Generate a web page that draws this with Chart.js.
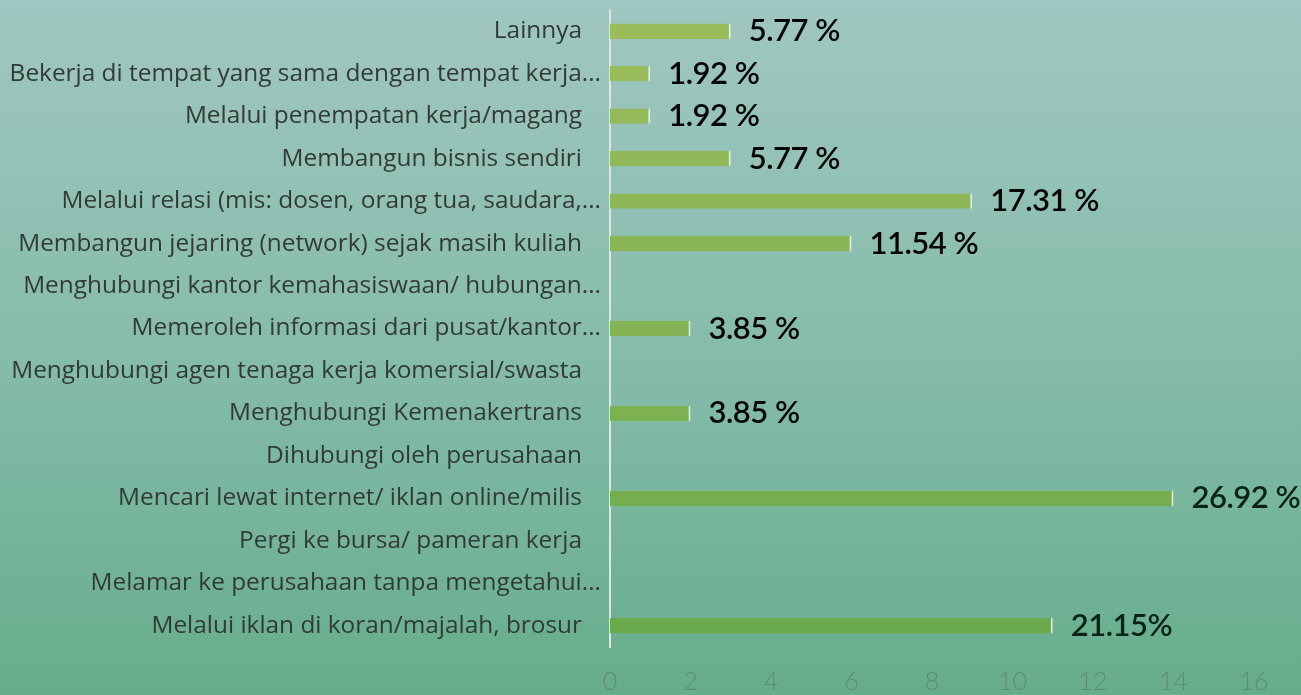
<!DOCTYPE html>
<html>
<head>
<meta charset="utf-8">
<script src="https://cdn.jsdelivr.net/npm/chart.js@4/dist/chart.umd.min.js"></script>
<style>
    html, body { margin: 0; padding: 0; background: #84b9a6; }
    #wrap { width: 1301px; height: 695px; position: relative; }
</style>
</head>
<body>
<div id="wrap"><canvas id="chart" width="1301" height="695"></canvas></div>
<script>
// categories, top to bottom as in the picture
const categories = [
    'Lainnya   ',
    'Bekerja di tempat yang sama dengan tempat kerja...',
    'Melalui penempatan kerja/magang   ',
    'Membangun bisnis sendiri   ',
    'Melalui relasi (mis: dosen, orang tua, saudara,...',
    'Membangun jejaring (network) sejak masih kuliah   ',
    'Menghubungi kantor kemahasiswaan/ hubungan...',
    'Memeroleh informasi dari pusat/kantor...',
    'Menghubungi agen tenaga kerja komersial/swasta   ',
    'Menghubungi Kemenakertrans   ',
    'Dihubungi oleh perusahaan   ',
    'Mencari lewat internet/ iklan online/milis   ',
    'Pergi ke bursa/ pameran kerja   ',
    'Melamar ke perusahaan tanpa mengetahui...',
    'Melalui iklan di koran/majalah, brosur   '
];
// number of respondents
const counts = [3, 1, 1, 3, 9, 6, 0, 2, 0, 2, 0, 14, 0, 0, 11];
// percentage labels shown next to the bars
const percentLabels = ['5.77 %', '1.92 %', '1.92 %', '5.77 %', '17.31 %', '11.54 %', '', '3.85 %', '', '3.85 %', '', '26.92 %', '', '', '21.15%'];
const xTicks = [0, 2, 4, 6, 8, 10, 12, 14, 16];

// green backdrop, lighter at the top
const backdrop = {
    id: 'backdrop',
    beforeDraw(chart) {
        const ctx = chart.ctx;
        const g = ctx.createLinearGradient(0, 0, 0, chart.height);
        g.addColorStop(0, '#a0c7c1');
        g.addColorStop(0.5, '#86bcab');
        g.addColorStop(1, '#66ad8c');
        ctx.save();
        ctx.fillStyle = g;
        ctx.fillRect(0, 0, chart.width, chart.height);
        ctx.restore();
    }
};

// percent text after each bar
const percentText = {
    id: 'percentText',
    afterDatasetsDraw(chart) {
        const ctx = chart.ctx;
        const meta = chart.getDatasetMeta(0);
        ctx.save();
        ctx.font = '600 31px Lato, "Open Sans", sans-serif';
        ctx.letterSpacing = '-0.5px';
        ctx.textBaseline = 'middle';
        ctx.textAlign = 'left';
        meta.data.forEach((bar, i) => {
            if (!percentLabels[i]) return;
            const t = bar.y / chart.height;
            ctx.fillStyle = t > 0.6 ? '#0b2417' : '#050505';
            ctx.fillText(percentLabels[i], bar.x + 18, bar.y);
        });
        ctx.restore();
    }
};

function barFill(context) {
    const chart = context.chart;
    const area = chart.chartArea;
    if (!area) return '#8fb758';
    const g = chart.ctx.createLinearGradient(0, area.top, 0, area.bottom);
    g.addColorStop(0, '#9dbd5c');
    g.addColorStop(1, '#69a94b');
    return g;
}

new Chart(document.getElementById('chart'), {
    type: 'bar',
    data: {
        labels: categories,
        datasets: [{
            label: 'Jumlah',
            data: counts,
            backgroundColor: barFill,
            borderColor: 'rgba(236, 242, 222, 0.9)',
            borderWidth: { top: 0, right: 2, bottom: 0, left: 0 },
            borderSkipped: false,
            barPercentage: 0.72,
            categoryPercentage: 0.5
        }]
    },
    options: {
        indexAxis: 'y',
        responsive: false,
        animation: false,
        layout: { padding: { top: 10, right: 47, bottom: 0, left: 0 } },
        plugins: {
            legend: { display: false },
            tooltip: { enabled: false }
        },
        scales: {
            x: {
                min: 0,
                max: 16,
                afterBuildTicks(scale) {
                    scale.ticks = xTicks.map(v => ({ value: v }));
                },
                afterFit(scale) { scale.height = 48; },
                grid: { display: false, drawTicks: false },
                border: { display: false },
                ticks: {
                    padding: 20,
                    color: '#5e8b75',
                    font: { family: 'Lato, "Open Sans", sans-serif', size: 25, weight: '300' }
                }
            },
            y: {
                afterFit(scale) {
                    scale.width = 610;
                    scale.paddingTop = 0;
                    scale.paddingBottom = 0;
                },
                grid: { display: false, drawTicks: false },
                border: { display: true, color: '#dfe6e2', width: 2 },
                ticks: {
                    padding: 9,
                    autoSkip: false,
                    color: '#333a36',
                    font: { family: '"Open Sans", Lato, sans-serif', size: 24.4 }
                }
            }
        }
    },
    plugins: [backdrop, percentText]
});
</script>
</body>
</html>
